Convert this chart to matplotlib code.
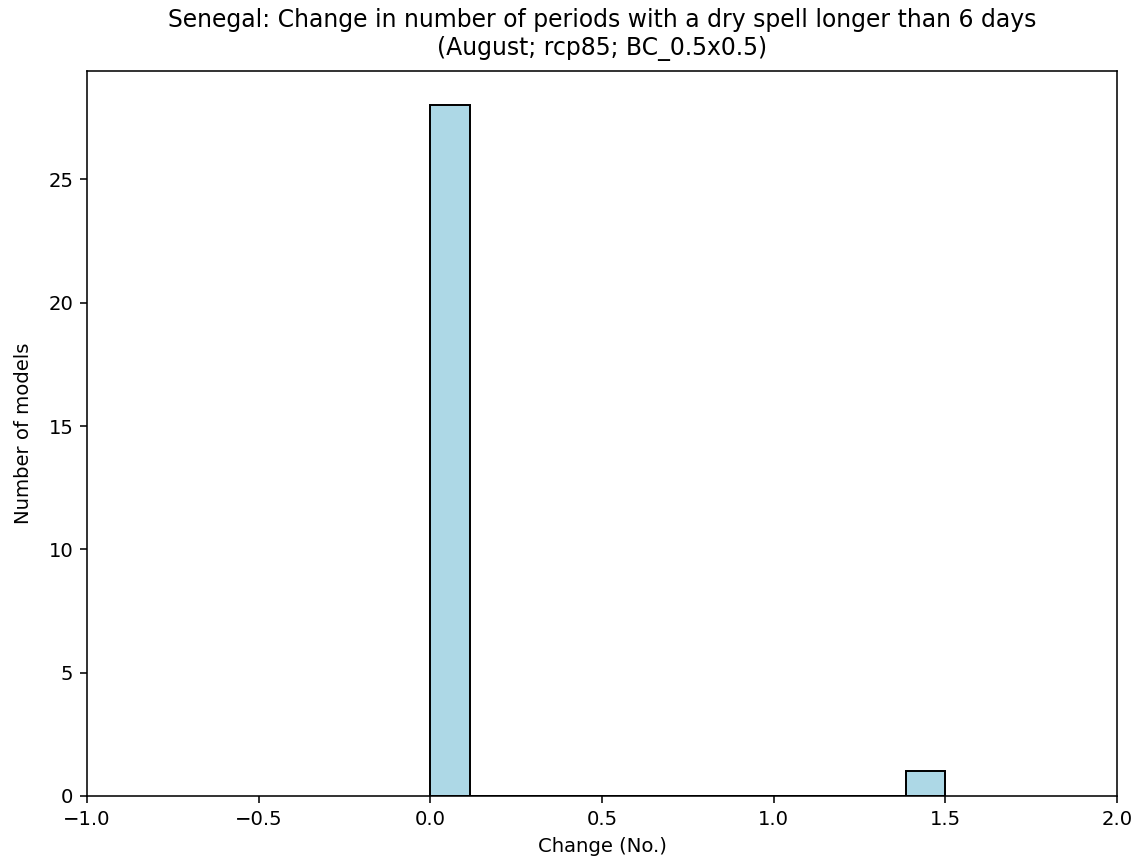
import numpy as np
from matplotlib import pyplot as plt

# Histogram of model changes (13 equal bins spanning 0 to 1.5)
bin_lo = 0.0
bin_hi = 1.5
n_bins = 13
bin_counts = [28, 0, 0, 0, 0, 0, 0, 0, 0, 0, 0, 0, 1]

title = ('Senegal: Change in number of periods with a dry spell longer than 6 days\n'
         '(August; rcp85; BC_0.5x0.5)')


def main():
    edges = np.linspace(bin_lo, bin_hi, n_bins + 1)

    # default styling, rendered at a higher dpi
    dpi = 141
    fig = plt.figure(figsize=(1140 / dpi, 865 / dpi), dpi=dpi)
    ax = fig.add_axes([0.0763, 0.0798, 0.9035, 0.8382])
    ax.hist(edges[:-1], bins=edges, weights=bin_counts,
            color='lightblue', edgecolor='black')

    ax.set_xlim(-1.0, 2.0)
    ax.set_xlabel('Change (No.)')
    ax.set_ylabel('Number of models', labelpad=8)
    ax.set_title(title, pad=8)

    fig.savefig('out.png', dpi=dpi)
    plt.close(fig)


if __name__ == '__main__':
    main()
